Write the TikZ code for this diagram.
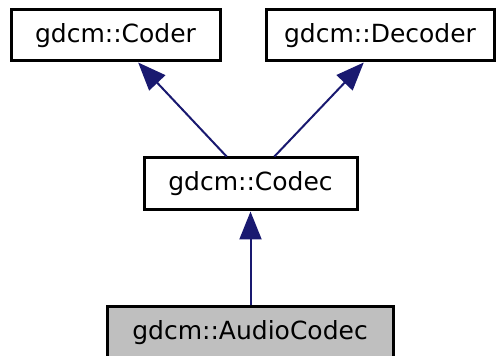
\documentclass[tikz,border=0pt]{standalone}
\usepackage{fontspec}
\setmainfont{DejaVu Sans}
\usepackage{xcolor}
\usetikzlibrary{arrows.meta}
\definecolor{edgeblue}{HTML}{191970}
\definecolor{curgray}{HTML}{BFBFBF}
\tikzset{
  cls/.style={draw=black,fill=white,line width=3pt,inner sep=0pt,minimum height=51pt,font=\fontsize{25}{30}\selectfont},
  cur/.style={cls,fill=curgray},
  arr/.style={-{Triangle[length=28pt,width=22pt]},draw=edgeblue,fill=edgeblue,line width=2pt},
}
\begin{document}
\begin{tikzpicture}[x=1pt,y=1pt]
  \useasboundingbox (0,0) rectangle (496,356);
  \node[cls,minimum width=209pt] (coder) at (115.5,320.5) {gdcm::Coder};
  \node[cls,minimum width=228pt] (decoder) at (380,320.5) {gdcm::Decoder};
  \node[cls,minimum width=213pt,minimum height=52pt] (codec) at (250.5,172) {gdcm::Codec};
  \node[cur,minimum width=286pt] (audio) at (250,23.5) {gdcm::AudioCodec};
  \draw[arr] (codec.131) -- (coder.310);
  \draw[arr] (codec.49) -- (decoder.239.5);
  \draw[arr] (audio.north -| codec.south) -- (codec.south);
\end{tikzpicture}
\end{document}
